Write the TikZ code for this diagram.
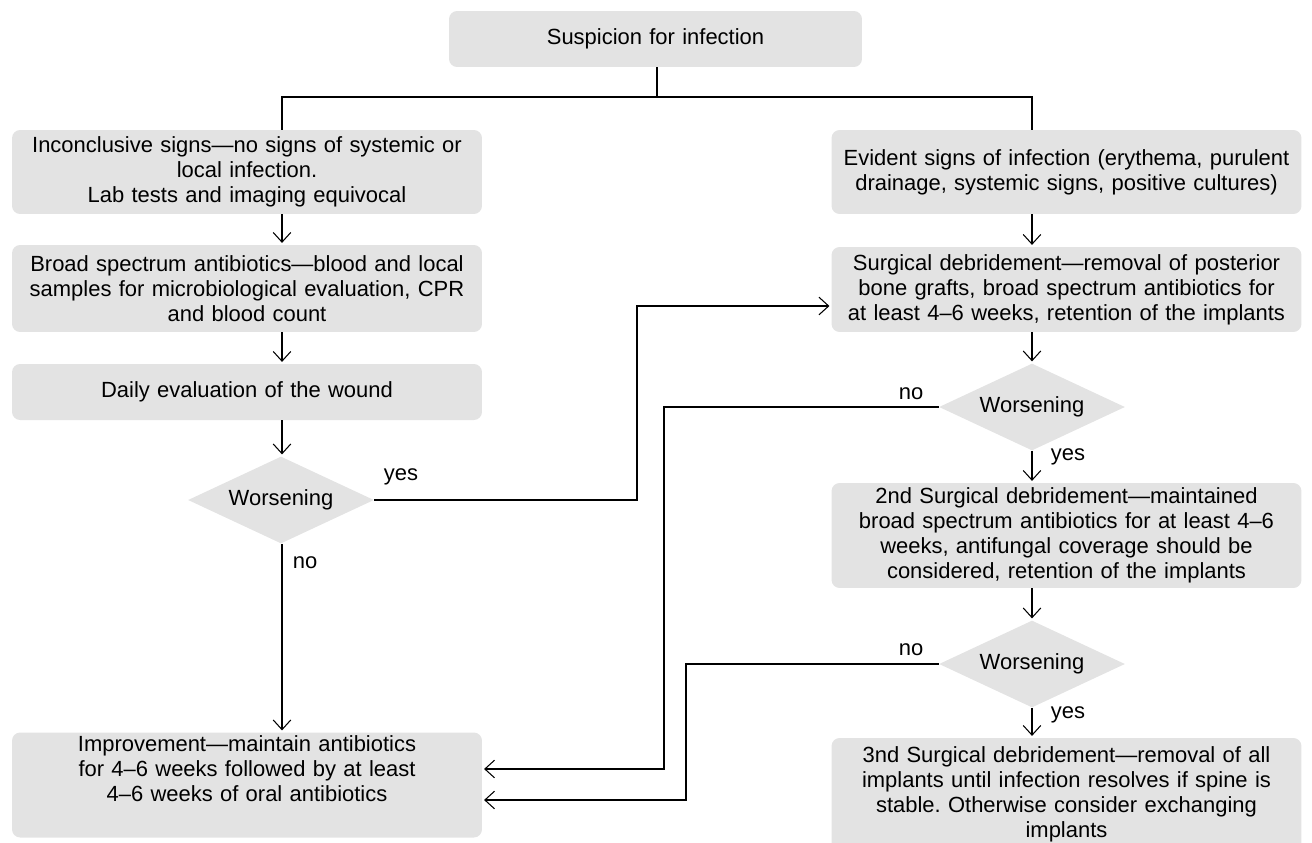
\documentclass[tikz,border=0pt]{standalone}
\usepackage{fontspec}
\setmainfont{Liberation Sans}
\usetikzlibrary{shapes.geometric,arrows.meta}
\definecolor{boxgray}{HTML}{E3E3E3}
\frenchspacing

\begin{document}
\begin{tikzpicture}[x=0.02cm, y=-0.02cm,
  box/.style={fill=boxgray, rounded corners=0.16cm, align=center,
    text width=9.4cm, minimum width=9.4cm, inner xsep=0pt, inner ysep=0pt,
    font=\fontsize{12.5}{14.2}\selectfont},
  decision/.style={diamond, fill=boxgray, aspect=2.14,
    inner xsep=-0.4cm, inner ysep=0pt,
    minimum width=3.72cm, minimum height=1.74cm,
    font=\fontsize{12.5}{14}\selectfont},
  lbl/.style={font=\fontsize{12.5}{14}\selectfont, inner sep=0pt},
  line/.style={line width=0.6pt},
  arr/.style={line width=0.6pt, -{Straight Barb[length=5.5pt,width=10pt]}, shorten >=1pt}]
\useasboundingbox (0,0) rectangle (1312,842);
\clip (0,0) rectangle (1312,842);

% boxes
\node[box, text width=8.26cm, minimum width=8.26cm, minimum height=1.12cm] (susp) at (655.5,39) {Suspicion for infection};
\node[box, minimum height=1.68cm] (incon) at (247,172) {Inconclusive signs\textemdash no signs of systemic or\\local infection.\\Lab tests and imaging equivocal};
\node[box, minimum height=1.74cm] (broad) at (247,288.5) {Broad spectrum antibiotics\textemdash blood and local\\samples for microbiological evaluation, CPR\\and blood count};
\node[box, minimum height=1.12cm] (daily) at (247,392) {Daily evaluation of the wound};
\node[box, minimum height=2.1cm] (improve) at (247,785) {Improvement\textemdash maintain antibiotics\\for 4\textendash 6 weeks followed by at least\\4\textendash 6 weeks of oral antibiotics\\\strut};

\node[box, minimum height=1.68cm] (evident) at (1066.5,172) {Evident signs of infection (erythema, purulent\\drainage, systemic signs, positive cultures)};
\node[box, minimum height=1.7cm] (surg) at (1066.5,289.5) {Surgical debridement\textemdash removal of posterior\\bone grafts, broad spectrum antibiotics for\\at least 4\textendash 6 weeks, retention of the implants};
\node[box, minimum height=2.1cm] (second) at (1066.5,535.5) {2nd Surgical debridement\textemdash maintained\\broad spectrum antibiotics for at least 4\textendash 6\\weeks, antifungal coverage should be\\considered, retention of the implants};
\node[box, minimum height=2.24cm] (third) at (1066.5,794) {3nd Surgical debridement\textemdash removal of all\\implants until infection resolves if spine is\\stable. Otherwise consider exchanging\\implants};

% decisions
\node[decision] (wors1) at (281,500) {Worsening};
\node[decision] (wors2) at (1032,407) {Worsening};
\node[decision] (wors3) at (1032,664) {Worsening};

% split under the first box
\coordinate (lcol) at (282,97);
\coordinate (rcol) at (1032,97);
\draw[line] (susp.south -| 657,0) -- (657,97);
\draw[line] (incon.north -| lcol) |- (rcol) -- (evident.north -| rcol);

% left column
\draw[arr] (incon.south -| lcol) -- (broad.north -| lcol);
\draw[arr] (broad.south -| lcol) -- (daily.north -| lcol);
\draw[arr] (daily.south -| lcol) -- (wors1.north -| lcol);
\coordinate (yesturn) at (637,306);
\draw[arr] (wors1.east) -| (yesturn) -- (yesturn -| surg.west);
\node[lbl] (yes1) at (401,477) {yes};
\draw[arr] (wors1.south -| lcol) -- (improve.north -| lcol);
\node[lbl] (no1) at (305,563) {no};

% right column
\draw[arr] (evident.south -| rcol) -- (surg.north -| rcol);
\draw[arr] (surg.south -| rcol) -- (wors2.north);
\coordinate (noturn1) at (664,769);
\draw[arr] (wors2.west) -| (noturn1) -- (noturn1 -| improve.east);
\node[lbl] (no2) at (911,394) {no};
\draw[arr] (wors2.south) -- (second.north -| rcol);
\node[lbl] (yes2) at (1068,457) {yes};
\draw[arr] (second.south -| rcol) -- (wors3.north);
\coordinate (noturn2) at (686,800);
\draw[arr] (wors3.west) -| (noturn2) -- (noturn2 -| improve.east);
\node[lbl] (no3) at (911,650) {no};
\draw[arr] (wors3.south) -- (third.north -| rcol);
\node[lbl] (yes3) at (1068,715) {yes};
\end{tikzpicture}
\end{document}
